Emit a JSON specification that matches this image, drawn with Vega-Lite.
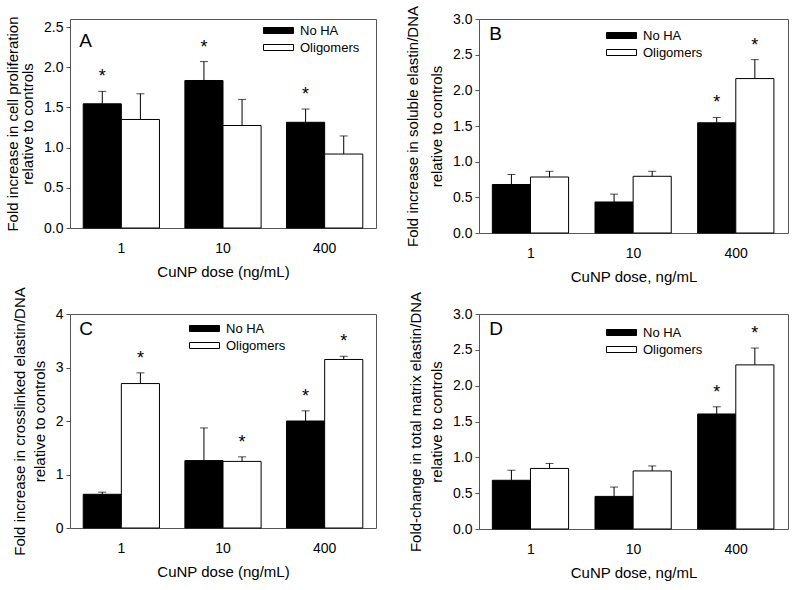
{
  "$schema": "https://vega.github.io/schema/vega-lite/v6.json",
  "datasets": {
    "d": [
      {"panel": "A", "dose": "1", "group": "No HA", "value": 1.545, "upper": 1.70, "sig": "*"},
      {"panel": "A", "dose": "1", "group": "Oligomers", "value": 1.35, "upper": 1.67, "sig": ""},
      {"panel": "A", "dose": "10", "group": "No HA", "value": 1.835, "upper": 2.07, "sig": "*"},
      {"panel": "A", "dose": "10", "group": "Oligomers", "value": 1.275, "upper": 1.60, "sig": ""},
      {"panel": "A", "dose": "400", "group": "No HA", "value": 1.315, "upper": 1.48, "sig": "*"},
      {"panel": "A", "dose": "400", "group": "Oligomers", "value": 0.92, "upper": 1.145, "sig": ""},
      {"panel": "B", "dose": "1", "group": "No HA", "value": 0.68, "upper": 0.82, "sig": ""},
      {"panel": "B", "dose": "1", "group": "Oligomers", "value": 0.785, "upper": 0.865, "sig": ""},
      {"panel": "B", "dose": "10", "group": "No HA", "value": 0.435, "upper": 0.545, "sig": ""},
      {"panel": "B", "dose": "10", "group": "Oligomers", "value": 0.795, "upper": 0.865, "sig": ""},
      {"panel": "B", "dose": "400", "group": "No HA", "value": 1.545, "upper": 1.62, "sig": "*"},
      {"panel": "B", "dose": "400", "group": "Oligomers", "value": 2.165, "upper": 2.43, "sig": "*"},
      {"panel": "C", "dose": "1", "group": "No HA", "value": 0.63, "upper": 0.67, "sig": ""},
      {"panel": "C", "dose": "1", "group": "Oligomers", "value": 2.70, "upper": 2.90, "sig": "*"},
      {"panel": "C", "dose": "10", "group": "No HA", "value": 1.26, "upper": 1.87, "sig": ""},
      {"panel": "C", "dose": "10", "group": "Oligomers", "value": 1.245, "upper": 1.33, "sig": "*"},
      {"panel": "C", "dose": "400", "group": "No HA", "value": 2.0, "upper": 2.19, "sig": "*"},
      {"panel": "C", "dose": "400", "group": "Oligomers", "value": 3.15, "upper": 3.21, "sig": "*"},
      {"panel": "D", "dose": "1", "group": "No HA", "value": 0.68, "upper": 0.82, "sig": ""},
      {"panel": "D", "dose": "1", "group": "Oligomers", "value": 0.845, "upper": 0.915, "sig": ""},
      {"panel": "D", "dose": "10", "group": "No HA", "value": 0.455, "upper": 0.585, "sig": ""},
      {"panel": "D", "dose": "10", "group": "Oligomers", "value": 0.81, "upper": 0.88, "sig": ""},
      {"panel": "D", "dose": "400", "group": "No HA", "value": 1.605, "upper": 1.705, "sig": "*"},
      {"panel": "D", "dose": "400", "group": "Oligomers", "value": 2.29, "upper": 2.525, "sig": "*"}
    ]
  },
  "columns": 2,
  "bounds": "flush",
  "align": "each",
  "spacing": {"row": 81, "column": 103},
  "resolve": {"scale": {"y": "independent", "fill": "independent", "x": "independent"}, "legend": {"fill": "independent"}},
  "concat": [
    {
      "width": 306, "height": 209,
      "data": {"name": "d"},
      "transform": [{"filter": "datum.panel == 'A'"}],
      "encoding": {
        "x": {"field": "dose", "type": "nominal", "scale": {"domain": ["1", "10", "400"], "paddingInner": 0.25, "paddingOuter": 0.13}, "axis": {"title": "CuNP dose (ng/mL)"}}
      },
      "layer": [
        {
          "mark": {"type": "bar", "stroke": "black", "strokeWidth": 1},
          "encoding": {
            "xOffset": {"field": "group", "type": "nominal", "sort": ["No HA", "Oligomers"]},
            "y": {"field": "value", "type": "quantitative", "scale": {"domain": [0, 2.5]}, "axis": {"values": [0, 0.5, 1, 1.5, 2, 2.5], "format": ".1f", "titleLineHeight": 15, "title": ["Fold increase in cell proliferation", "relative to controls"]}},
            "fill": {"field": "group", "type": "nominal", "sort": ["No HA", "Oligomers"], "scale": {"range": ["black", "white"]}, "legend": {"legendX": 202, "legendY": 5}}
          }
        },
        {
          "mark": {"type": "rule", "color": "black", "strokeWidth": 1},
          "encoding": {"xOffset": {"field": "group", "type": "nominal", "sort": ["No HA", "Oligomers"]}, "y": {"field": "value", "type": "quantitative"}, "y2": {"field": "upper"}}
        },
        {
          "mark": {"type": "tick", "color": "black", "thickness": 1, "size": 8},
          "encoding": {"xOffset": {"field": "group", "type": "nominal", "sort": ["No HA", "Oligomers"]}, "y": {"field": "upper", "type": "quantitative"}}
        },
        {
          "transform": [{"filter": "datum.sig == '*'"}],
          "mark": {"type": "text", "fontSize": 18, "baseline": "alphabetic", "dy": -9, "color": "black"},
          "encoding": {"xOffset": {"field": "group", "type": "nominal", "sort": ["No HA", "Oligomers"]}, "y": {"field": "upper", "type": "quantitative"}, "text": {"field": "sig"}}
        },
        {
          "data": {"values": [{"lab": "A"}]},
          "mark": {"type": "text", "fontSize": 19, "align": "left", "baseline": "top", "dx": -4, "dy": 5, "color": "black"},
          "encoding": {"x": {"datum": "1", "bandPosition": 0}, "y": {"datum": 2.5}, "text": {"field": "lab"}}
        }
      ]
    },
    {
      "width": 309, "height": 214,
      "data": {"name": "d"},
      "transform": [{"filter": "datum.panel == 'B'"}],
      "encoding": {
        "x": {"field": "dose", "type": "nominal", "scale": {"domain": ["1", "10", "400"], "paddingInner": 0.25, "paddingOuter": 0.13}, "axis": {"title": "CuNP dose, ng/mL"}}
      },
      "layer": [
        {
          "mark": {"type": "bar", "stroke": "black", "strokeWidth": 1},
          "encoding": {
            "xOffset": {"field": "group", "type": "nominal", "sort": ["No HA", "Oligomers"]},
            "y": {"field": "value", "type": "quantitative", "scale": {"domain": [0, 3]}, "axis": {"values": [0, 0.5, 1, 1.5, 2, 2.5, 3], "format": ".1f", "titleLineHeight": 24, "title": ["Fold increase in soluble elastin/DNA", "relative to controls"]}},
            "fill": {"field": "group", "type": "nominal", "sort": ["No HA", "Oligomers"], "scale": {"range": ["black", "white"]}, "legend": {"legendX": 136, "legendY": 10}}
          }
        },
        {
          "mark": {"type": "rule", "color": "black", "strokeWidth": 1},
          "encoding": {"xOffset": {"field": "group", "type": "nominal", "sort": ["No HA", "Oligomers"]}, "y": {"field": "value", "type": "quantitative", "axis": {"values": [0, 0.5, 1, 1.5, 2, 2.5, 3], "format": ".1f", "titleLineHeight": 24, "title": ["Fold increase in soluble elastin/DNA", "relative to controls"]}}, "y2": {"field": "upper"}}
        },
        {
          "mark": {"type": "tick", "color": "black", "thickness": 1, "size": 8},
          "encoding": {"xOffset": {"field": "group", "type": "nominal", "sort": ["No HA", "Oligomers"]}, "y": {"field": "upper", "type": "quantitative", "axis": {"values": [0, 0.5, 1, 1.5, 2, 2.5, 3], "format": ".1f", "titleLineHeight": 24, "title": ["Fold increase in soluble elastin/DNA", "relative to controls"]}}}
        },
        {
          "transform": [{"filter": "datum.sig == '*'"}],
          "mark": {"type": "text", "fontSize": 18, "baseline": "alphabetic", "dy": -9, "color": "black"},
          "encoding": {"xOffset": {"field": "group", "type": "nominal", "sort": ["No HA", "Oligomers"]}, "y": {"field": "upper", "type": "quantitative", "axis": {"values": [0, 0.5, 1, 1.5, 2, 2.5, 3], "format": ".1f", "titleLineHeight": 24, "title": ["Fold increase in soluble elastin/DNA", "relative to controls"]}}, "text": {"field": "sig"}}
        },
        {
          "data": {"values": [{"lab": "B"}]},
          "mark": {"type": "text", "fontSize": 19, "align": "left", "baseline": "top", "dx": -3, "dy": 6, "color": "black"},
          "encoding": {"x": {"datum": "1", "bandPosition": 0}, "y": {"datum": 3, "type": "quantitative", "axis": {"values": [0, 0.5, 1, 1.5, 2, 2.5, 3], "format": ".1f", "titleLineHeight": 24, "title": ["Fold increase in soluble elastin/DNA", "relative to controls"]}}, "text": {"field": "lab"}}
        }
      ]
    },
    {
      "width": 306, "height": 214,
      "data": {"name": "d"},
      "transform": [{"filter": "datum.panel == 'C'"}],
      "encoding": {
        "x": {"field": "dose", "type": "nominal", "scale": {"domain": ["1", "10", "400"], "paddingInner": 0.25, "paddingOuter": 0.13}, "axis": {"title": "CuNP dose (ng/mL)"}}
      },
      "layer": [
        {
          "mark": {"type": "bar", "stroke": "black", "strokeWidth": 1},
          "encoding": {
            "xOffset": {"field": "group", "type": "nominal", "sort": ["No HA", "Oligomers"]},
            "y": {"field": "value", "type": "quantitative", "scale": {"domain": [0, 4]}, "axis": {"values": [0, 1, 2, 3, 4], "format": "d", "titleLineHeight": 20, "title": ["Fold increase in crosslinked elastin/DNA", "relative to controls"]}},
            "fill": {"field": "group", "type": "nominal", "sort": ["No HA", "Oligomers"], "scale": {"range": ["black", "white"]}, "legend": {"legendX": 128, "legendY": 8}}
          }
        },
        {
          "mark": {"type": "rule", "color": "black", "strokeWidth": 1},
          "encoding": {"xOffset": {"field": "group", "type": "nominal", "sort": ["No HA", "Oligomers"]}, "y": {"field": "value", "type": "quantitative"}, "y2": {"field": "upper"}}
        },
        {
          "mark": {"type": "tick", "color": "black", "thickness": 1, "size": 8},
          "encoding": {"xOffset": {"field": "group", "type": "nominal", "sort": ["No HA", "Oligomers"]}, "y": {"field": "upper", "type": "quantitative"}}
        },
        {
          "transform": [{"filter": "datum.sig == '*'"}],
          "mark": {"type": "text", "fontSize": 18, "baseline": "alphabetic", "dy": -9, "color": "black"},
          "encoding": {"xOffset": {"field": "group", "type": "nominal", "sort": ["No HA", "Oligomers"]}, "y": {"field": "upper", "type": "quantitative"}, "text": {"field": "sig"}}
        },
        {
          "data": {"values": [{"lab": "C"}]},
          "mark": {"type": "text", "fontSize": 19, "align": "left", "baseline": "top", "dx": -4, "dy": 6, "color": "black"},
          "encoding": {"x": {"datum": "1", "bandPosition": 0}, "y": {"datum": 4}, "text": {"field": "lab"}}
        }
      ]
    },
    {
      "width": 309, "height": 215,
      "data": {"name": "d"},
      "transform": [{"filter": "datum.panel == 'D'"}],
      "encoding": {
        "x": {"field": "dose", "type": "nominal", "scale": {"domain": ["1", "10", "400"], "paddingInner": 0.25, "paddingOuter": 0.13}, "axis": {"title": "CuNP dose, ng/mL"}}
      },
      "layer": [
        {
          "mark": {"type": "bar", "stroke": "black", "strokeWidth": 1},
          "encoding": {
            "xOffset": {"field": "group", "type": "nominal", "sort": ["No HA", "Oligomers"]},
            "y": {"field": "value", "type": "quantitative", "scale": {"domain": [0, 3]}, "axis": {"values": [0, 0.5, 1, 1.5, 2, 2.5, 3], "format": ".1f", "titleLineHeight": 21, "title": ["Fold-change in total matrix elastin/DNA", "relative to controls"]}},
            "fill": {"field": "group", "type": "nominal", "sort": ["No HA", "Oligomers"], "scale": {"range": ["black", "white"]}, "legend": {"legendX": 136, "legendY": 12}}
          }
        },
        {
          "mark": {"type": "rule", "color": "black", "strokeWidth": 1},
          "encoding": {"xOffset": {"field": "group", "type": "nominal", "sort": ["No HA", "Oligomers"]}, "y": {"field": "value", "type": "quantitative", "axis": {"values": [0, 0.5, 1, 1.5, 2, 2.5, 3], "format": ".1f", "titleLineHeight": 21, "title": ["Fold-change in total matrix elastin/DNA", "relative to controls"]}}, "y2": {"field": "upper"}}
        },
        {
          "mark": {"type": "tick", "color": "black", "thickness": 1, "size": 8},
          "encoding": {"xOffset": {"field": "group", "type": "nominal", "sort": ["No HA", "Oligomers"]}, "y": {"field": "upper", "type": "quantitative", "axis": {"values": [0, 0.5, 1, 1.5, 2, 2.5, 3], "format": ".1f", "titleLineHeight": 21, "title": ["Fold-change in total matrix elastin/DNA", "relative to controls"]}}}
        },
        {
          "transform": [{"filter": "datum.sig == '*'"}],
          "mark": {"type": "text", "fontSize": 18, "baseline": "alphabetic", "dy": -9, "color": "black"},
          "encoding": {"xOffset": {"field": "group", "type": "nominal", "sort": ["No HA", "Oligomers"]}, "y": {"field": "upper", "type": "quantitative", "axis": {"values": [0, 0.5, 1, 1.5, 2, 2.5, 3], "format": ".1f", "titleLineHeight": 21, "title": ["Fold-change in total matrix elastin/DNA", "relative to controls"]}}, "text": {"field": "sig"}}
        },
        {
          "data": {"values": [{"lab": "D"}]},
          "mark": {"type": "text", "fontSize": 19, "align": "left", "baseline": "top", "dx": -3, "dy": 6, "color": "black"},
          "encoding": {"x": {"datum": "1", "bandPosition": 0}, "y": {"datum": 3, "type": "quantitative", "axis": {"values": [0, 0.5, 1, 1.5, 2, 2.5, 3], "format": ".1f", "titleLineHeight": 21, "title": ["Fold-change in total matrix elastin/DNA", "relative to controls"]}}, "text": {"field": "lab"}}
        }
      ]
    }
  ],
  "config": {
    "font": "Liberation Sans",
    "background": "white",
    "view": {"stroke": "#555", "strokeWidth": 1},
    "axis": {"grid": false, "domain": false, "labelFontSize": 14, "titleFontSize": 15, "titleFontWeight": "normal", "labelColor": "black", "titleColor": "black", "tickColor": "#555", "labelOverlap": false},
    "axisY": {"tickSize": 4, "labelPadding": 3, "titlePadding": 8, "titleLineHeight": 15},
    "axisX": {"ticks": false, "tickSize": 0, "labelPadding": 13, "titlePadding": 9, "labelAngle": 0},
    "legend": {"orient": "none", "title": null, "padding": 0, "symbolType": "M-2.5,-0.5H2.5V0.5H-2.5Z", "symbolSize": 144, "symbolStrokeColor": "black", "symbolStrokeWidth": 1, "labelFontSize": 13, "labelColor": "black", "labelOffset": 15, "rowPadding": 3}
  }
}
